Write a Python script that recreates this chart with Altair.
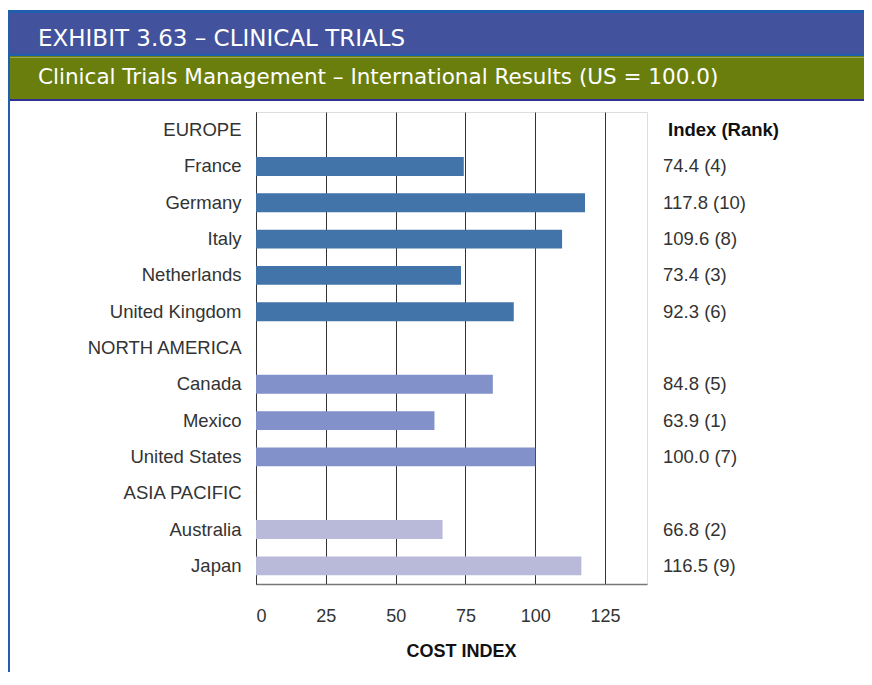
import altair as alt
import pandas as pd

# ---------------- data ----------------
title_text = "EXHIBIT 3.63 – CLINICAL TRIALS"
subtitle_text = "Clinical Trials Management – International Results (US = 100.0)"
column_header = "Index (Rank)"
x_title = "COST INDEX"

categories = ["EUROPE", "France", "Germany", "Italy", "Netherlands", "United Kingdom",
              "NORTH AMERICA", "Canada", "Mexico", "United States",
              "ASIA PACIFIC", "Australia", "Japan"]
regions = ["Europe", "Europe", "Europe", "Europe", "Europe", "Europe",
           "North America", "North America", "North America", "North America",
           "Asia Pacific", "Asia Pacific", "Asia Pacific"]
values = [None, 74.4, 117.8, 109.6, 73.4, 92.3, None, 84.8, 63.9, 100.0, None, 66.8, 116.5]
ranks = [None, 4, 10, 8, 3, 6, None, 5, 1, 7, None, 2, 9]
x_ticks = [0, 25, 50, 75, 100, 125]

region_names = ["Europe", "North America", "Asia Pacific"]
region_colors = ["#4374a9", "#8291c9", "#b9b9d9"]

labels = [f"{v:.1f} ({r})" if v is not None else "" for v, r in zip(values, ranks)]
df = pd.DataFrame({"category": categories, "region": regions,
                   "value": values, "label": labels})

FONT = "Liberation Sans"
HFONT = "DejaVu Sans"
TXT = "#333333"

y_enc = alt.Y("category:N",
              scale=alt.Scale(domain=categories, paddingInner=0.48, paddingOuter=0.24),
              axis=alt.Axis(title=None, ticks=False, labelPadding=15, labelFontSize=18.5,
                            labelColor=TXT, labelFont=FONT, domainColor="#333333",
                            domainWidth=1, labelLimit=400, grid=False))

bars = alt.Chart(df).mark_bar().encode(
    x=alt.X("value:Q",
            scale=alt.Scale(domain=[0, 140], nice=False),
            axis=alt.Axis(values=x_ticks, grid=True, gridColor="#333333", gridWidth=1,
                          ticks=False, domainColor="#777777", domainWidth=1.5,
                          labelFontSize=18, labelColor=TXT, labelFont=FONT, labelPadding=23,
                          title=x_title, titleFontSize=18, titleFontWeight="bold",
                          titleColor="#111111", titleFont=FONT, titleY=72, titleX=205,
                          titleBaseline="alphabetic", titleAlign="center")),
    y=y_enc,
    color=alt.Color("region:N", scale=alt.Scale(domain=region_names, range=region_colors),
                    legend=None),
)

value_labels = alt.Chart(df).mark_text(align="left", baseline="middle", fontSize=18.5,
                                       font=FONT, color=TXT).encode(
    x=alt.value(407), y=alt.Y("category:N"), text="label:N")

hdr_df = pd.DataFrame({"category": ["EUROPE"], "t": [column_header]})
col_header = alt.Chart(hdr_df).mark_text(align="left", baseline="middle", fontSize=18.5,
                                         font=FONT, fontWeight="bold", color="#111111").encode(
    x=alt.value(412), y=alt.Y("category:N"), text="t:N")

one = pd.DataFrame({"t": [title_text]})


def band(x1, x2, y1, y2, color):
    return alt.Chart(one).mark_rect(color=color).encode(
        x=alt.value(x1), x2=alt.value(x2), y=alt.value(y1), y2=alt.value(y2))


PAD_RIGHT = 217
PAD_BOTTOM = 88
RIGHT = 391 + PAD_RIGHT    # right edge of the svg, in plot coordinates
BOTTOM = 472 + PAD_BOTTOM  # bottom edge of the svg, in plot coordinates
frame = [
    band(-248, RIGHT, -102, -99, "#1f5fae"),     # top border
    band(-248, -246, -102, BOTTOM, "#1f5fae"),   # left border
    band(-246, RIGHT, -99, -58, "#42529c"),      # blue header
    band(-246, RIGHT, -58, -56, "#1f5fae"),
    band(-246, RIGHT, -56, -13, "#6a7e0e"),      # green header
    band(-246, RIGHT, -55, -54, "#9aa55a"),
    band(-246, RIGHT, -13, -11, "#2e3192"),
]

title_mark = alt.Chart(pd.DataFrame({"t": [title_text]})).mark_text(
    align="left", baseline="alphabetic", fontSize=23, font=HFONT, color="white").encode(
    x=alt.value(-218), y=alt.value(-66), text="t:N")

subtitle_mark = alt.Chart(pd.DataFrame({"t": [subtitle_text]})).mark_text(
    align="left", baseline="alphabetic", fontSize=21.5, font=HFONT, color="white").encode(
    x=alt.value(-218), y=alt.value(-28), text="t:N")

chart = alt.layer(*frame, bars, value_labels, col_header, title_mark, subtitle_mark).properties(
    width=391, height=472,
    autosize=alt.AutoSizeParams(type="none"),
    padding={"left": 248, "top": 104, "right": PAD_RIGHT, "bottom": PAD_BOTTOM},
    background="white",
).configure_view(stroke=None).configure(font=FONT)

chart.save("out.html", embed_options={"renderer": "svg", "actions": False})
